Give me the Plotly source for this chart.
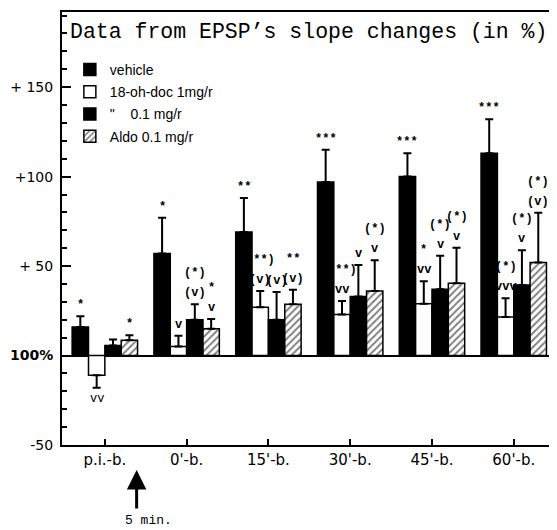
import plotly.graph_objects as go

# ---------------- data ----------------
categories = ["p.i.-b.", "0'-b.", "15'-b.", "30'-b.", "45'-b.", "60'-b."]

vehicle = [16, 57, 69, 97, 100, 113]
vehicle_err = [6, 20, 19, 18, 13, 19]

doc_1 = [-11, 5, 27, 23, 29, 21.5]
doc_1_err = [7, 6, 9, 7.5, 12.5, 10.5]

doc_01 = [5.6, 20, 20, 33, 37, 39.4]
doc_01_err = [3.3, 8.7, 15.5, 17.6, 18.8, 19.5]

aldo = [8.5, 15, 28.7, 36, 40.4, 52]
aldo_err = [2.8, 5.4, 8, 17.2, 19.8, 27.8]

# significance marks (lower line just above the error bar, upper line above it)
vehicle_sig_lo = ["*", "*", "**", "***", "***", "***"]
vehicle_sig_hi = ["", "", "", "", "", ""]
doc_1_sig_lo = ["vv", "v", "(v)", "vv", "vv", "vvv"]
doc_1_sig_hi = ["", "", "(**)", "(**)", "*", "(*)"]
doc_01_sig_lo = ["", "(v)", "(v)", "v", "v", "v"]
doc_01_sig_hi = ["", "(*)", "", "", "(*)", "(*)"]
aldo_sig_lo = ["*", "v", "(v)", "v", "v", "(v)"]
aldo_sig_hi = ["", "*", "**", "(*)", "(*)", "(*)"]

series_names = ["vehicle", "18-oh-doc 1mg/r", "\"\u00a0\u00a0\u00a0\u00a00.1 mg/r", "Aldo 0.1 mg/r"]

yticks = [-50, 0, 50, 100, 150]
yticktext = ["-50", "<b>100%</b>", "+ 50", "+100", "+ 150"]

# ---------------- figure ----------------
x = list(range(len(categories)))
fig = go.Figure()

series = [
    (series_names[0], vehicle, vehicle_err, "black", None, vehicle_sig_lo, vehicle_sig_hi),
    (series_names[1], doc_1, doc_1_err, "white", None, doc_1_sig_lo, doc_1_sig_hi),
    (series_names[2], doc_01, doc_01_err, "black", None, doc_01_sig_lo, doc_01_sig_hi),
    (series_names[3], aldo, aldo_err, "white", "/", aldo_sig_lo, aldo_sig_hi),
]

for k, (name, vals, errs, color, pattern, _, _) in enumerate(series):
    plus = [e if v >= 0 else 0 for v, e in zip(vals, errs)]
    minus = [0 if v >= 0 else e for v, e in zip(vals, errs)]
    marker = dict(color=color, line=dict(color="black", width=1.5))
    if pattern:
        marker["pattern"] = dict(shape=pattern, fgcolor="black", bgcolor="white",
                                 size=5, solidity=0.4)
    fig.add_trace(go.Bar(
        x=x, y=vals, name=name, marker=marker, legendgroup=f"g{k}",
        error_y=dict(type="data", symmetric=False, array=plus, arrayminus=minus,
                     color="black", thickness=2, width=4),
    ))

ngroups = len(series)
bargap = 0.2
bw = (1 - bargap) / ngroups
mark_font = dict(family="Liberation Mono", size=12, color="black")
for k, (name, vals, errs, color, pattern, lo, hi) in enumerate(series):
    off = -0.5 + bargap / 2 + bw * (k + 0.5)
    for i in range(len(categories)):
        xi = i + off
        v, e = vals[i], errs[i]
        if v >= 0:
            cap = v + e
            if lo[i]:
                fig.add_annotation(x=xi, y=cap, text="<b>" + lo[i] + "</b>", showarrow=False,
                                   yanchor="bottom", yshift=2, font=mark_font)
            if hi[i]:
                fig.add_annotation(x=xi, y=cap, text="<b>" + hi[i] + "</b>", showarrow=False,
                                   yanchor="bottom", yshift=22, font=mark_font)
        else:
            cap = v - e
            if lo[i]:
                fig.add_annotation(x=xi, y=cap, text=lo[i], showarrow=False,
                                   yanchor="top", yshift=-2, font=mark_font)

# title inside plot
fig.add_annotation(xref="paper", yref="paper", x=0.012, y=0.954,
                   text="Data from EPSP’s slope changes (in %)", showarrow=False,
                   xanchor="left", yanchor="middle",
                   font=dict(family="Liberation Mono", size=21.5, color="black"))

# arrow and "5 min."
fig.add_annotation(xref="paper", yref="paper", x=0.152, y=-0.0575, ax=0, ay=40,
                   text="", showarrow=True, arrowhead=2, arrowsize=1.3,
                   arrowwidth=3, arrowcolor="black")
fig.add_annotation(xref="paper", yref="paper", x=0.176, y=-0.175,
                   text="5 min.", showarrow=False, xanchor="center", yanchor="middle",
                   font=dict(family="Liberation Mono", size=13, color="black"))

# page body has an 8px margin, so the figure is sized/offset to fit the 557x530 window
fig.update_layout(
    width=549, height=522,
    margin=dict(l=54, r=2, t=2, b=85),
    paper_bgcolor="white", plot_bgcolor="white",
    barmode="group", bargap=bargap, bargroupgap=0,
    showlegend=True,
    legend=dict(x=0.016, y=0.903, xanchor="left", yanchor="top",
                bgcolor="rgba(0,0,0,0)", borderwidth=0,
                traceorder="grouped", tracegroupgap=1,
                font=dict(family="Liberation Sans", size=14, color="black")),
    xaxis=dict(range=[-0.524, 5.48], tickvals=x, ticktext=categories,
               ticks="inside", ticklen=6, tickwidth=2, tickcolor="black",
               showline=True, linecolor="black", linewidth=2, mirror=True,
               showgrid=False, zeroline=False,
               tickfont=dict(family="DejaVu Sans", size=15, color="black")),
    yaxis=dict(range=[-50, 192], tickvals=yticks, ticktext=yticktext,
               ticks="inside", ticklen=9, tickwidth=2, tickcolor="black",
               minor=dict(tick0=0, dtick=10, ticks="inside", ticklen=5,
                          tickwidth=1.5, tickcolor="black", showgrid=False),
               showline=True, linecolor="black", linewidth=2, mirror=True,
               showgrid=False, zeroline=True, zerolinecolor="black", zerolinewidth=2,
               ticklabelstandoff=4,
               tickfont=dict(family="DejaVu Sans", size=14, color="black")),
)

fig.write_html("out.html")
